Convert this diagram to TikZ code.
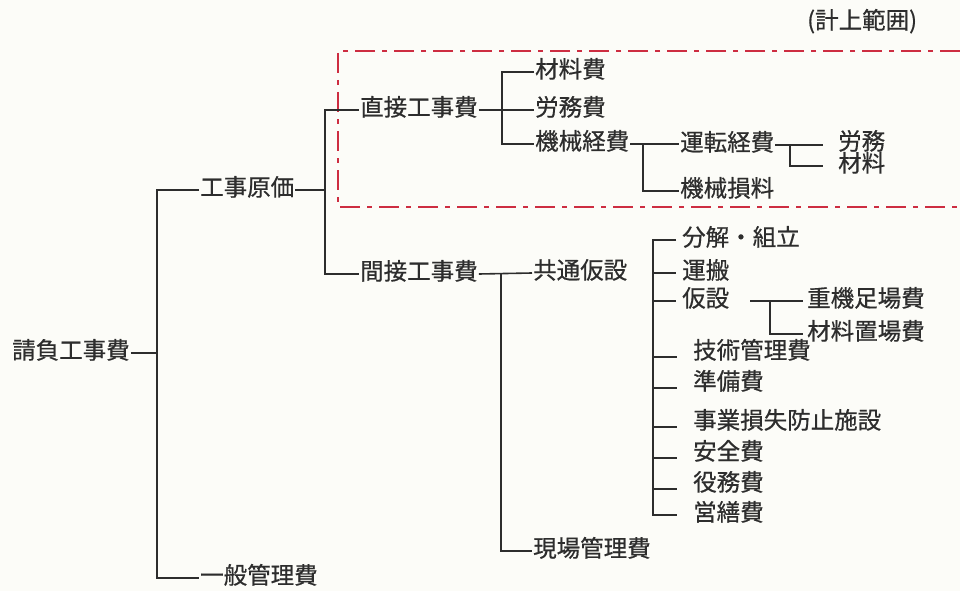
\documentclass[tikz,border=0pt]{standalone}
\usepackage{fontspec}
\setmainfont{Noto Sans CJK JP}[AutoFakeBold=0.6]
\usepackage{tikz}
\usepackage{xcolor}
\usetikzlibrary{positioning, calc}

\definecolor{inkgray}{RGB}{45,45,45}
\definecolor{rangered}{RGB}{205,45,65}
\definecolor{paper}{RGB}{252,252,248}

\begin{document}
\begin{tikzpicture}[x=1pt,y=-1pt,
    item/.style={anchor=west,inner sep=1pt,text=inkgray,
      font=\fontsize{23.5}{24}\selectfont\bfseries,text height=1.16em,text depth=0pt},
    conn/.style={draw=inkgray,line width=1.6pt},
    rangebox/.style={draw=rangered,line width=1.8pt,
      dash pattern=on 20pt off 7pt on 5pt off 7pt}]
    \fill[paper] (0,0) rectangle (960,591);
    \useasboundingbox (0,0) rectangle (960,591);

    % spines
    \coordinate (s1) at (157,0);
    \coordinate (s2) at (325,0);
    \coordinate (s3) at (502,0);
    \coordinate (s4) at (643,0);
    \coordinate (s5) at (790,0);
    \coordinate (s6) at (501,0);
    \coordinate (s7) at (653,0);
    \coordinate (s8) at (770,0);

    \node[item] (keijou) at (806,23) {(計上範囲)};
    \draw[rangebox] (960,51) -- (338,51) -- (338,207) -- (960,207);

    \node[item] (ukeoi) at (11,353) {請負工事費};
    \node[item] (genka) at (199,190) {工事原価};
    \node[item] (ippan) at (199,578) {一般管理費};
    \node[item] (chokusetsu) at (359,110) {直接工事費};
    \node[item] (kansetsu) at (359,274) {間接工事費};
    \node[item] (zairyohi) at (534,72) {材料費};
    \node[item] (romuhi) at (534,110) {労務費};
    \node[item] (kikaikeihi) at (534,144) {機械経費};
    \node[item] (unten) at (679,145) {運転経費};
    \node[item] (sonryo) at (679,191) {機械損料};
    \node[item] (romu) at (837,144) {労務};
    \node[item] (zairyo) at (837,166) {材料};
    \node[item] (kyotsu) at (532,273) {共通仮設};
    \node[item] (genba) at (532,551) {現場管理費};
    \node[item] (bunkai) at (681,240) {分解・組立};
    \node[item] (unpan) at (681,273) {運搬};
    \node[item] (kasetsu) at (681,301) {仮設};
    \node[item] (juki) at (806,301) {重機足場費};
    \node[item] (okiba) at (806,334) {材料置場費};
    \node[item] (gijutsu) at (692,353) {技術管理費};
    \node[item] (junbi) at (692,384) {準備費};
    \node[item] (jigyo) at (692,423) {事業損失防止施設};
    \node[item] (anzen) at (692,454) {安全費};
    \node[item] (ekimu) at (692,485) {役務費};
    \node[item] (eizen) at (692,515) {営繕費};

    % 請負工事費
    \draw[conn] (ukeoi.east) -- (ukeoi.east -| s1);
    \draw[conn] (genka.west) -| (s1 |- ippan.west) -- (ippan.west);
    % 工事原価
    \draw[conn] (genka.east) -- (genka.east -| s2);
    \draw[conn] (chokusetsu.west) -| (s2 |- kansetsu.west) -- (kansetsu.west);
    % 直接工事費
    \draw[conn] (chokusetsu.east) -- (chokusetsu.east -| romuhi.west);
    \draw[conn] (zairyohi.west) -| (s3 |- kikaikeihi.west) -- (kikaikeihi.west);
    \draw[conn] (kikaikeihi.east) -- (kikaikeihi.east -| unten.west);
    \draw[conn] (s4 |- kikaikeihi.east) |- (sonryo.west);
    \draw[conn] (unten.east) -- ([xshift=-14pt]unten.east -| romu.west);
    \draw[conn] (s5 |- unten.east) |- ([xshift=-14pt]zairyo.west);
    % 間接工事費
    \draw[conn] (kansetsu.east) -- (kyotsu.west);
    \draw[conn] (s6 |- kansetsu.east) |- (genba.west);
    \draw[conn] ([xshift=-5pt]bunkai.west) -| (s7 |- eizen.west) -- ++(24,0);
    \foreach \n in {unpan,kasetsu}
        \draw[conn] (s7 |- \n.west) -- ([xshift=-5pt]\n.west);
    \foreach \n in {gijutsu,junbi,jigyo,anzen,ekimu}
        \draw[conn] ([yshift=-4pt]s7 |- \n.west) -- ++(24,0);
    \draw[conn] ([xshift=20pt]kasetsu.east) -- ([xshift=-3pt]juki.west);
    \draw[conn] (s8 |- kasetsu.east) |- ([xshift=-3pt]okiba.west);
\end{tikzpicture}
\end{document}
